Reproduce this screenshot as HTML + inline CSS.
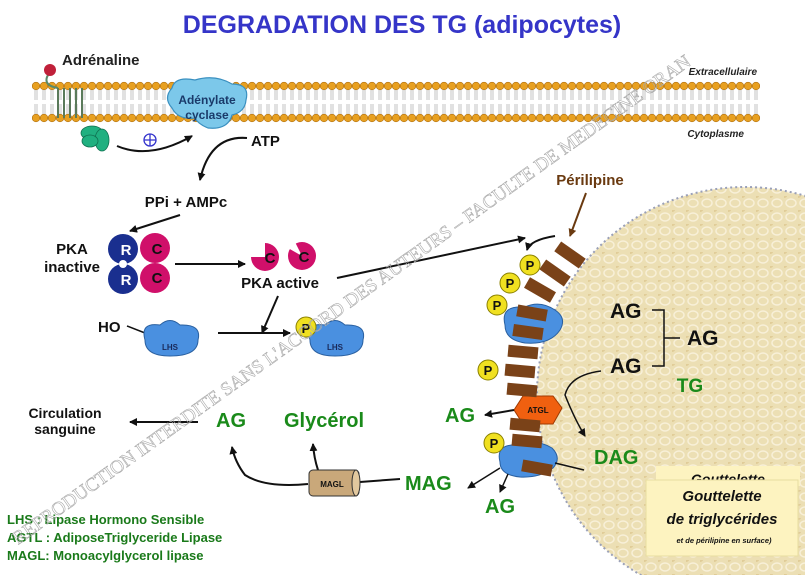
<!DOCTYPE html>
<html><head><meta charset="utf-8"><style>
html,body{margin:0;padding:0;background:#fff;}
svg{display:block;font-family:"Liberation Sans",Arial,sans-serif;}
</style></head><body>
<svg width="805" height="575" viewBox="0 0 805 575" xmlns="http://www.w3.org/2000/svg">
<defs>
<pattern id="heads" x="32" y="0" width="8" height="200" patternUnits="userSpaceOnUse">
<circle cx="4" cy="86" r="3.8" fill="#e8a020" stroke="#b07010" stroke-width="0.6"/>
<circle cx="4" cy="118" r="3.8" fill="#e8a020" stroke="#b07010" stroke-width="0.6"/>
<path d="M3 90 V100 M5 90 V100 M3 104 V114 M5 104 V114" stroke="#aaa" stroke-width="0.7"/>
</pattern>
<pattern id="tex" width="14" height="14" patternUnits="userSpaceOnUse">
<rect width="14" height="14" fill="#ecdfb4"/>
<ellipse cx="7" cy="7" rx="5" ry="4" fill="none" stroke="#f8f0d8" stroke-width="1.5"/>
<ellipse cx="0" cy="0" rx="3" ry="2" fill="#e0cc98"/>
</pattern>
<marker id="ar" markerWidth="8" markerHeight="8" refX="7" refY="4" orient="auto" markerUnits="userSpaceOnUse"><path d="M0 0 L8 4 L0 8 Z" fill="#111"/></marker>
<marker id="arb" markerWidth="8" markerHeight="8" refX="7" refY="4" orient="auto" markerUnits="userSpaceOnUse"><path d="M0 0 L8 4 L0 8 Z" fill="#6a3a10"/></marker>
</defs>

<circle cx="745" cy="395" r="208" fill="url(#tex)" stroke="#9aa0b8" stroke-width="2" stroke-dasharray="2 3"/>

<text x="402" y="33" text-anchor="middle" font-size="25" font-weight="bold" fill="#3535c8">DEGRADATION DES TG (adipocytes)</text>

<rect x="32" y="80" width="728" height="44" fill="url(#heads)"/>
<text x="757" y="75" text-anchor="end" font-size="10" font-style="italic" font-weight="bold" fill="#222">Extracellulaire</text>
<text x="744" y="137" text-anchor="end" font-size="10" font-style="italic" font-weight="bold" fill="#222">Cytoplasme</text>

<path d="M50 72 Q40 85 58 88" stroke="#5a8a6a" stroke-width="2" fill="none"/>
<g stroke="#5a7a5a" stroke-width="2" fill="none"><path d="M58 88 V118 M64 88 V118 M70 88 V118 M76 88 V118 M82 88 V118"/></g>
<circle cx="50" cy="70" r="6" fill="#c0203a"/>
<text x="62" y="65" font-size="15" font-weight="bold" fill="#222">Adrénaline</text>
<g fill="#20b080" stroke="#107050" stroke-width="0.8"><ellipse cx="92" cy="133" rx="11" ry="7"/><ellipse cx="102" cy="140" rx="7" ry="11"/><ellipse cx="90" cy="141" rx="8" ry="6"/></g>
<path d="M117 146 Q150 160 192 136" stroke="#111" stroke-width="2" fill="none" marker-end="url(#ar)"/>
<circle cx="150" cy="140" r="6" fill="none" stroke="#3333cc" stroke-width="1.3"/><path d="M144 140 H156 M150 134 V146" stroke="#3333cc" stroke-width="1.3"/>

<path d="M172 88 Q175 76 195 80 Q215 74 232 84 Q250 84 246 100 Q245 112 232 115 Q228 130 208 128 Q198 124 195 118 Q178 120 172 108 Q163 98 172 88Z" fill="#7cc8ea" stroke="#3a90c0" stroke-width="1.2"/>
<text x="207" y="104" text-anchor="middle" font-size="12" font-weight="bold" fill="#1a3a6a">Adénylate</text>
<text x="207" y="119" text-anchor="middle" font-size="12" font-weight="bold" fill="#1a3a6a">cyclase</text>
<text x="251" y="146" font-size="15" font-weight="bold" fill="#111">ATP</text>
<path d="M247 138 Q210 135 200 180" stroke="#111" stroke-width="2" fill="none" marker-end="url(#ar)"/>
<text x="186" y="207" text-anchor="middle" font-size="15" font-weight="bold" fill="#111">PPi + AMPc</text>
<path d="M180 215 L130 231" stroke="#111" stroke-width="2" fill="none" marker-end="url(#ar)"/>

<text x="72" y="254" text-anchor="middle" font-size="15" font-weight="bold" fill="#111">PKA</text>
<text x="72" y="272" text-anchor="middle" font-size="15" font-weight="bold" fill="#111">inactive</text>
<circle cx="123" cy="249" r="15" fill="#1a2f8f"/><circle cx="123" cy="279" r="15" fill="#1a2f8f"/>
<circle cx="123" cy="264" r="4" fill="#fff"/>
<circle cx="155" cy="248" r="15" fill="#d0106a"/><circle cx="155" cy="278" r="15" fill="#d0106a"/>
<path d="M140 256 L148 263 L140 270Z" fill="#fff"/>
<text x="126" y="255" text-anchor="middle" font-size="15" font-weight="bold" fill="#fff">R</text>
<text x="126" y="285" text-anchor="middle" font-size="15" font-weight="bold" fill="#fff">R</text>
<text x="157" y="254" text-anchor="middle" font-size="15" font-weight="bold" fill="#111">C</text>
<text x="157" y="283" text-anchor="middle" font-size="15" font-weight="bold" fill="#111">C</text>
<path d="M175 264 H245" stroke="#111" stroke-width="2" marker-end="url(#ar)"/>
<path d="M265 257 m-14 0 a14 14 0 1 0 14 -14 L265 257Z" fill="#d0106a"/>
<circle cx="302" cy="256" r="14" fill="#d0106a"/><path d="M302 256 L288 248 L294 240Z" fill="#fff"/>
<text x="270" y="263" text-anchor="middle" font-size="15" font-weight="bold" fill="#111">C</text>
<text x="304" y="262" text-anchor="middle" font-size="15" font-weight="bold" fill="#111">C</text>
<text x="280" y="288" text-anchor="middle" font-size="15" font-weight="bold" fill="#111">PKA active</text>
<path d="M337 278 L525 238" stroke="#111" stroke-width="2" marker-end="url(#ar)"/>
<path d="M278 296 L262 333" stroke="#111" stroke-width="2" marker-end="url(#ar)"/>

<text x="98" y="332" font-size="15" font-weight="bold" fill="#111">HO</text>
<path d="M127 326 L145 333" stroke="#111" stroke-width="1.5"/>
<path d="M145 340 Q140 322 160 325 Q170 316 180 325 Q202 324 198 340 Q198 356 170 356 Q145 356 145 340Z" fill="#4a90e0" stroke="#2a60a0"/>
<text x="170" y="350" text-anchor="middle" font-size="8" font-weight="bold" fill="#1a2a5a">LHS</text>
<path d="M218 333 H290" stroke="#111" stroke-width="2" marker-end="url(#ar)"/>
<path d="M310 340 Q305 322 325 325 Q335 316 345 325 Q367 324 363 340 Q363 356 335 356 Q310 356 310 340Z" fill="#4a90e0" stroke="#2a60a0"/>
<text x="335" y="350" text-anchor="middle" font-size="8" font-weight="bold" fill="#1a2a5a">LHS</text>
<circle cx="306" cy="327" r="10" fill="#f0e020" stroke="#8a8000"/>
<text x="306" y="333" text-anchor="middle" font-size="13" font-weight="bold" fill="#111">P</text>

<text x="590" y="185" text-anchor="middle" font-size="15" font-weight="bold" fill="#6a3a10">Périlipine</text>
<path d="M586 193 L570 236" stroke="#6a3a10" stroke-width="2" marker-end="url(#arb)"/>
<path d="M555 236 Q530 240 527 250" stroke="#111" stroke-width="2" fill="none" marker-end="url(#ar)"/>
<path d="M505 325 Q500 305 525 307 Q540 300 555 310 Q567 318 560 330 Q550 345 525 343 Q505 340 505 325Z" fill="#4a90e0" stroke="#2a60a0"/>
<path d="M500 462 Q495 443 520 445 Q535 438 552 448 Q562 458 553 468 Q540 478 520 477 Q500 475 500 462Z" fill="#4a90e0" stroke="#2a60a0"/>
<polygon points="523,396 553,396 562,408 553,424 523,424 514,410" fill="#f06010" stroke="#a03a00"/>
<text x="538" y="413" text-anchor="middle" font-size="8" font-weight="bold" fill="#111">ATGL</text>
<g fill="#7a4218">
<rect x="-15" y="-6" width="30" height="12" transform="translate(570,255) rotate(35)"/>
<rect x="-15" y="-6" width="30" height="12" transform="translate(555,273) rotate(35)"/>
<rect x="-15" y="-6" width="30" height="12" transform="translate(540,290) rotate(30)"/>
<rect x="-15" y="-6" width="30" height="12" transform="translate(532,313) rotate(10)"/>
<rect x="-15" y="-6" width="30" height="12" transform="translate(528,332) rotate(8)"/>
<rect x="-15" y="-6" width="30" height="12" transform="translate(523,352) rotate(5)"/>
<rect x="-15" y="-6" width="30" height="12" transform="translate(520,371) rotate(5)"/>
<rect x="-15" y="-6" width="30" height="12" transform="translate(522,390) rotate(5)"/>
<rect x="-15" y="-6" width="30" height="12" transform="translate(525,425) rotate(5)"/>
<rect x="-15" y="-6" width="30" height="12" transform="translate(527,441) rotate(5)"/>
<rect x="-15" y="-6" width="30" height="12" transform="translate(537,468) rotate(10)"/>
</g>
<g fill="#f0e020" stroke="#8a8000">
<circle cx="530" cy="265" r="10"/><circle cx="510" cy="283" r="10"/><circle cx="497" cy="305" r="10"/><circle cx="488" cy="370" r="10"/><circle cx="494" cy="443" r="10"/>
</g>
<g font-size="13" font-weight="bold" fill="#111" text-anchor="middle">
<text x="530" y="270">P</text><text x="510" y="288">P</text><text x="497" y="310">P</text><text x="488" y="375">P</text><text x="494" y="448">P</text>
</g>

<g font-size="21" font-weight="bold" fill="#111">
<text x="610" y="318">AG</text><text x="610" y="373">AG</text><text x="687" y="345">AG</text>
</g>
<path d="M652 310 H664 V366 H652 M664 338 H680" stroke="#111" stroke-width="1.5" fill="none"/>
<text x="690" y="392" text-anchor="middle" font-size="19" font-weight="bold" fill="#1a8a1a">TG</text>
<path d="M601 371 Q570 375 565 395 Q575 420 585 436" stroke="#111" stroke-width="1.5" fill="none" marker-end="url(#ar)"/>
<path d="M514 410 L485 415" stroke="#111" stroke-width="2" marker-end="url(#ar)"/>
<path d="M500 468 L468 488" stroke="#111" stroke-width="1.5" marker-end="url(#ar)"/>
<path d="M508 474 L500 492" stroke="#111" stroke-width="1.5" marker-end="url(#ar)"/>
<path d="M555 463 L584 470" stroke="#111" stroke-width="1.5"/>

<g font-size="20" font-weight="bold" fill="#1a8a1a">
<text x="445" y="422">AG</text>
<text x="594" y="464">DAG</text>
<text x="405" y="490">MAG</text>
<text x="485" y="513">AG</text>
<text x="216" y="427">AG</text>
<text x="284" y="427">Glycérol</text>
</g>

<path d="M400 479 L360 482" stroke="#111" stroke-width="2"/>
<path d="M308 484 Q265 488 245 475 Q235 462 232 447" stroke="#111" stroke-width="2" fill="none" marker-end="url(#ar)"/>
<path d="M318 470 Q314 458 313 444" stroke="#111" stroke-width="2" fill="none" marker-end="url(#ar)"/>
<rect x="309" y="470" width="50" height="26" rx="4" fill="#c9a87a" stroke="#333"/>
<ellipse cx="356" cy="483" rx="4" ry="13" fill="#e2c89e" stroke="#333"/>
<text x="332" y="487" text-anchor="middle" font-size="8" font-weight="bold" fill="#111">MAGL</text>

<text x="65" y="418" text-anchor="middle" font-size="14" font-weight="bold" fill="#111">Circulation</text>
<text x="65" y="434" text-anchor="middle" font-size="14" font-weight="bold" fill="#111">sanguine</text>
<path d="M198 422 H130" stroke="#111" stroke-width="2" marker-end="url(#ar)"/>

<rect x="656" y="466" width="144" height="20" fill="#fdf3c0"/>
<text x="728" y="484" text-anchor="middle" font-size="14" font-weight="bold" font-style="italic" fill="#111">Gouttelette</text>
<rect x="646" y="480" width="152" height="76" fill="#fdf3c0" stroke="#e8dca0"/>
<text x="722" y="501" text-anchor="middle" font-size="15" font-weight="bold" font-style="italic" fill="#111">Gouttelette</text>
<text x="722" y="524" text-anchor="middle" font-size="15" font-weight="bold" font-style="italic" fill="#111">de triglycérides</text>
<text x="724" y="543" text-anchor="middle" font-size="7.5" font-weight="bold" font-style="italic" fill="#111">et de périlipine en surface)</text>

<g font-size="13" font-weight="bold" fill="#1a7a1a">
<text x="7" y="524">LHS : Lipase Hormono Sensible</text>
<text x="7" y="542">AGTL : AdiposeTriglyceride Lipase</text>
<text x="7" y="560">MAGL: Monoacylglycerol lipase</text>
</g>

<text x="0" y="0" transform="translate(18,545) rotate(-35.5)" font-family="'Liberation Serif',serif" font-size="19" fill="none" stroke="#aaa" stroke-width="0.6">REPRODUCTION INTERDITE SANS L'ACCORD DES AUTEURS – FACULTE DE MEDECINE ORAN</text>
</svg>
</body></html>
